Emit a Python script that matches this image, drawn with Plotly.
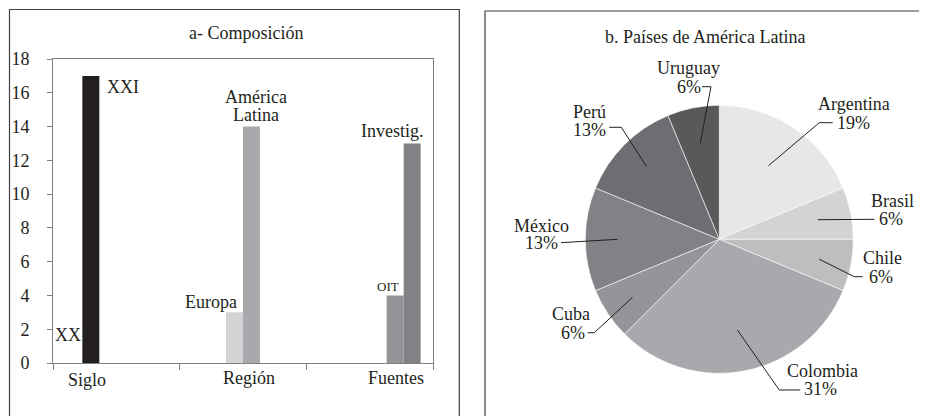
import plotly.graph_objects as go
import math

# ---------------- data ----------------
categories = ["Siglo", "Región", "Fuentes"]
bar_series = ["XX", "XXI", "Europa", "América Latina", "OIT", "Investig."]
bar_category = ["Siglo", "Siglo", "Región", "Región", "Fuentes", "Fuentes"]
bar_values = [0, 17, 3, 14, 4, 13]
y_ticks = [0, 2, 4, 6, 8, 10, 12, 14, 16, 18]

countries = ["Argentina", "Brasil", "Chile", "Colombia", "Cuba", "México", "Perú", "Uruguay"]
country_counts = [3, 1, 1, 5, 1, 2, 2, 1]

title_a = "a- Composición"
title_b = "b. Países de América Latina"

# ---------------- styles ----------------
OFF = 8                      # page body margin
W, H = 927 - OFF, 416 - OFF  # figure size so that it fills the window
FONT = "Liberation Serif"
TXT = "#231f20"
bar_colors = ["#d1d3d4", "#231f20", "#d1d3d4", "#a7a9ac", "#939598", "#808285"]
pie_colors = ["#e6e7e8", "#d1d3d4", "#bcbec0", "#a7a9ac", "#939598", "#808285", "#6d6e71", "#58595b"]
AXC = "#808080"

def px(x):
    return (x - OFF) / W

def py(y):
    return 1 - (y - OFF) / H

# plot area of the bar panel (window pixels)
PA_L, PA_R, PA_T, PA_B = 53, 433, 59, 363

fig = go.Figure()

for name, cat, val, col in zip(bar_series, bar_category, bar_values, bar_colors):
    fig.add_trace(go.Bar(
        x=categories,
        y=[val if c == cat else None for c in categories],
        name=name, marker=dict(color=col, line=dict(width=0)),
        xaxis="x", yaxis="y", hoverinfo="skip",
    ))

# pie panel geometry (window pixels)
PC_X, PC_Y, PR = 719.3, 239.3, 134
fig.add_trace(go.Pie(
    labels=countries, values=country_counts, sort=False, direction="clockwise",
    rotation=0, textinfo="none", hoverinfo="skip",
    marker=dict(colors=pie_colors, line=dict(color="#ffffff", width=0.6)),
    domain=dict(x=[px(PC_X - PR), px(PC_X + PR)], y=[py(PC_Y + PR), py(PC_Y - PR)]),
    showlegend=False,
))

annotations = []
shapes = []

def ann(text, x, y, size=18, **kw):
    d = dict(text=text, x=x, y=y, showarrow=False, xanchor="center", yanchor="middle",
             font=dict(family=FONT, size=size, color=TXT))
    d.update(kw)
    annotations.append(d)

# titles
ann(title_a, px(246.7), py(33.3), xref="paper", yref="paper")
ann(title_b, px(705.3), py(37), xref="paper", yref="paper")

# category labels (tick texts, offset as in reference)
cat_shift = {"Siglo": (-29.5, -17), "Región": (5.5, -15), "Fuentes": (26, -15)}
for i, c in enumerate(categories):
    xs, ys = cat_shift[c]
    ann(c, i, 0, xref="x", yref="y", xshift=xs, yshift=ys)

# bar labels
bar_label_pos = {
    "XX": [("XX", -48.2, 28)],
    "XXI": [("XXI", 6.2, -11.4)],
    "Europa": [("Europa", -31.8, 10.6)],
    "América Latina": [("América", 12.5, 29.9), ("Latina", 12.5, 11.6)],
    "OIT": [("OIT", 18.3, 8.7)],
    "Investig.": [("Investig.", 23.3, 12.7)],
}
for name, cat, val in zip(bar_series, bar_category, bar_values):
    ci = categories.index(cat)
    for t, xs, ys in bar_label_pos[name]:
        ann(t, ci, val, size=13 if t == "OIT" else 18, xref="x", yref="y", xshift=xs, yshift=ys)

# pie labels with leader lines
total = sum(country_counts)
# (name center, name y, pct center, pct y, elbow points, anchor radius fraction)
pie_label_layout = {
    "Argentina": (854.3, 104, 853.3, 122.7, [(832.7, 122.7), (819.3, 122.7)], 0.66),
    "Brasil": (892.7, 201, 891, 219.3, [(874.3, 219.3)], 0.75),
    "Chile": (882.7, 258.3, 881, 276.7, [(862.7, 276.7), (854.3, 276.7)], 0.76),
    "Colombia": (822, 371, 820.3, 389.3, [(800.3, 390), (779.3, 390)], 0.69),
    "Cuba": (571, 314.3, 572.7, 333.3, [(587.7, 332.7), (594.3, 332.7)], 0.78),
    "México": (541, 225.7, 541, 243.3, [(561, 242.7)], 0.76),
    "Perú": (589.3, 111.7, 589.3, 130, [(609.3, 127.3), (621.3, 127.3)], 0.77),
    "Uruguay": (688.7, 68.3, 688.5, 86.7, [(702, 86.7), (711, 86.7)], 0.73),
}
cum = 0
for name, cnt in zip(countries, country_counts):
    frac_mid = (cum + cnt / 2) / total
    cum += cnt
    ang = 2 * math.pi * frac_mid
    nx, ny, pxx, pyy, elbows, rf = pie_label_layout[name]
    ax_ = PC_X + rf * PR * math.sin(ang)
    ay_ = PC_Y - rf * PR * math.cos(ang)
    pct = int(cnt / total * 100 + 0.5)
    ann(name, px(nx), py(ny), xref="paper", yref="paper")
    ann(f"{pct}%", px(pxx), py(pyy), xref="paper", yref="paper")
    pts = elbows + [(ax_, ay_)]
    path = "M " + " L ".join(f"{px(a):.5f},{py(b):.5f}" for a, b in pts)
    shapes.append(dict(type="path", path=path, xref="paper", yref="paper",
                       line=dict(color=TXT, width=1)))

# panel frames
shapes.append(dict(type="rect", xref="paper", yref="paper", x0=px(9.5), x1=px(459.3),
                   y0=py(430), y1=py(9.5), line=dict(color="#404040", width=1.2), layer="below"))
shapes.append(dict(type="rect", xref="paper", yref="paper", x0=px(485), x1=px(940),
                   y0=py(430), y1=py(11), line=dict(color="#404040", width=1.2), layer="below"))

fig.update_layout(
    width=W, height=H, autosize=False, margin=dict(l=0, r=0, t=0, b=0, pad=0),
    paper_bgcolor="white", plot_bgcolor="white", showlegend=False,
    barmode="group", bargap=0.195, bargroupgap=0,
    font=dict(family=FONT, size=18, color=TXT),
    xaxis=dict(domain=[px(PA_L), px(PA_R)], type="category", showticklabels=False,
               ticks="outside", tickson="boundaries", ticklen=6, tickcolor=AXC,
               showline=True, linecolor=AXC, linewidth=1, mirror=True, automargin=False,
               showgrid=False, zeroline=False, fixedrange=True),
    yaxis=dict(domain=[py(PA_B), py(PA_T)], range=[0, 18], tickvals=y_ticks,
               ticks="outside", ticklen=5, tickcolor=AXC, ticklabelstandoff=14,
               tickfont=dict(family=FONT, size=18, color=TXT), automargin=False,
               showline=True, linecolor=AXC, linewidth=1, mirror=True,
               showgrid=False, zeroline=False, fixedrange=True),
    annotations=annotations, shapes=shapes,
)

fig.write_html("out.html")
